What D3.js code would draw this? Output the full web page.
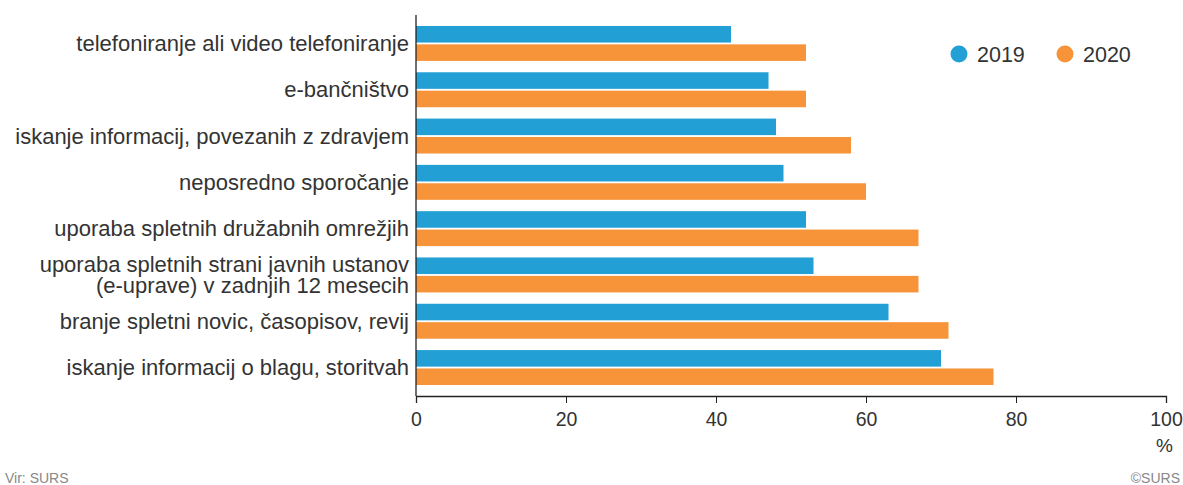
<!DOCTYPE html>
<html>
<head>
<meta charset="utf-8">
<script src="https://cdnjs.cloudflare.com/ajax/libs/d3/7.8.5/d3.min.js"></script>
<style>
  body { margin: 0; background: #fff; }
  svg { font-family: "Liberation Sans", Arial, sans-serif; }
</style>
</head>
<body>
<svg width="1183" height="485"></svg>
<script>
var categories = [
  ['telefoniranje ali video telefoniranje'],
  ['e-bančništvo'],
  ['iskanje informacij, povezanih z zdravjem'],
  ['neposredno sporočanje'],
  ['uporaba spletnih družabnih omrežjih'],
  ['uporaba spletnih strani javnih ustanov', '(e-uprave) v zadnjih 12 mesecih'],
  ['branje spletni novic, časopisov, revij'],
  ['iskanje informacij o blagu, storitvah']
];
var series = ['2019', '2020'];
var values2019 = [42, 47, 48, 49, 52, 53, 63, 70];
var values2020 = [52, 52, 58, 60, 67, 67, 71, 77];
var xTicks = [0, 20, 40, 60, 80, 100];
var colors = ['#229fd4', '#f7943a'];

var svg = d3.select('svg'),
  plotLeft = 416, plotRight = 1166, plotTop = 15, plotBottom = 396;

var x = d3.scaleLinear().domain([0, 100]).range([plotLeft, plotRight]);
var y = d3.scaleBand().domain(d3.range(categories.length))
  .range([plotTop, plotBottom]).paddingInner(0.245).paddingOuter(0.237);
var y1 = d3.scaleBand().domain(series).range([0, y.bandwidth()]).paddingInner(0.1);
var color = d3.scaleOrdinal().domain(series).range(colors);

var data = categories.map(function(c, i) {
  return { i: i, lines: c, vals: [values2019[i], values2020[i]] };
});

// bars
var groups = svg.append('g').selectAll('g')
  .data(data).enter().append('g')
  .attr('transform', function(d) { return 'translate(0,' + y(d.i) + ')'; });

groups.selectAll('rect')
  .data(function(d) { return series.map(function(s, k) { return { s: s, v: d.vals[k] }; }); })
  .enter().append('rect')
  .attr('x', x(0))
  .attr('y', function(d) { return y1(d.s); })
  .attr('width', function(d) { return x(d.v) - x(0); })
  .attr('height', y1.bandwidth())
  .attr('fill', function(d) { return color(d.s); });

// category labels
groups.append('text')
  .attr('text-anchor', 'end')
  .attr('fill', '#333')
  .style('font-size', '22px')
  .each(function(d) {
    var t = d3.select(this), n = d.lines.length;
    d.lines.forEach(function(l, k) {
      t.append('tspan')
        .attr('x', plotLeft - 7)
        .attr('y', y.bandwidth() / 2 + (k - (n - 1) / 2) * 21)
        .attr('dy', '0.35em')
        .text(l);
    });
  });

// x axis
var xAxis = svg.append('g')
  .attr('transform', 'translate(0,' + plotBottom + ')')
  .call(d3.axisBottom(x).tickValues(xTicks).tickSize(7).tickPadding(9));
xAxis.select('.domain').attr('stroke', '#222').attr('stroke-width', 1.3);
xAxis.selectAll('.tick line').attr('stroke', '#222');
xAxis.selectAll('.tick text').attr('fill', '#333').style('font-size', '19.5px')
  .style('font-family', '"Liberation Sans", Arial, sans-serif');

// y axis line
svg.append('line')
  .attr('x1', plotLeft).attr('x2', plotLeft)
  .attr('y1', plotTop).attr('y2', plotBottom)
  .attr('stroke', '#222').attr('stroke-width', 1.3);

svg.append('text')
  .attr('x', 1173).attr('y', 452)
  .attr('text-anchor', 'end')
  .attr('fill', '#333')
  .style('font-size', '19px')
  .text('%');

// legend
var legend = svg.append('g').selectAll('g')
  .data(series).enter().append('g')
  .attr('transform', function(d, i) { return 'translate(' + (959 + i * 106) + ',54)'; });
legend.append('circle').attr('r', 8.5).attr('fill', function(d) { return color(d); });
legend.append('text')
  .attr('x', 18).attr('dy', '0.35em')
  .attr('fill', '#333').style('font-size', '21.5px')
  .text(function(d) { return d; });

// footer
svg.append('text')
  .attr('x', 5).attr('y', 483)
  .attr('fill', '#888').style('font-size', '14px')
  .text('Vir: SURS');
svg.append('text')
  .attr('x', 1180).attr('y', 483)
  .attr('text-anchor', 'end')
  .attr('fill', '#888').style('font-size', '14px')
  .text('©SURS');
</script>
</body>
</html>
